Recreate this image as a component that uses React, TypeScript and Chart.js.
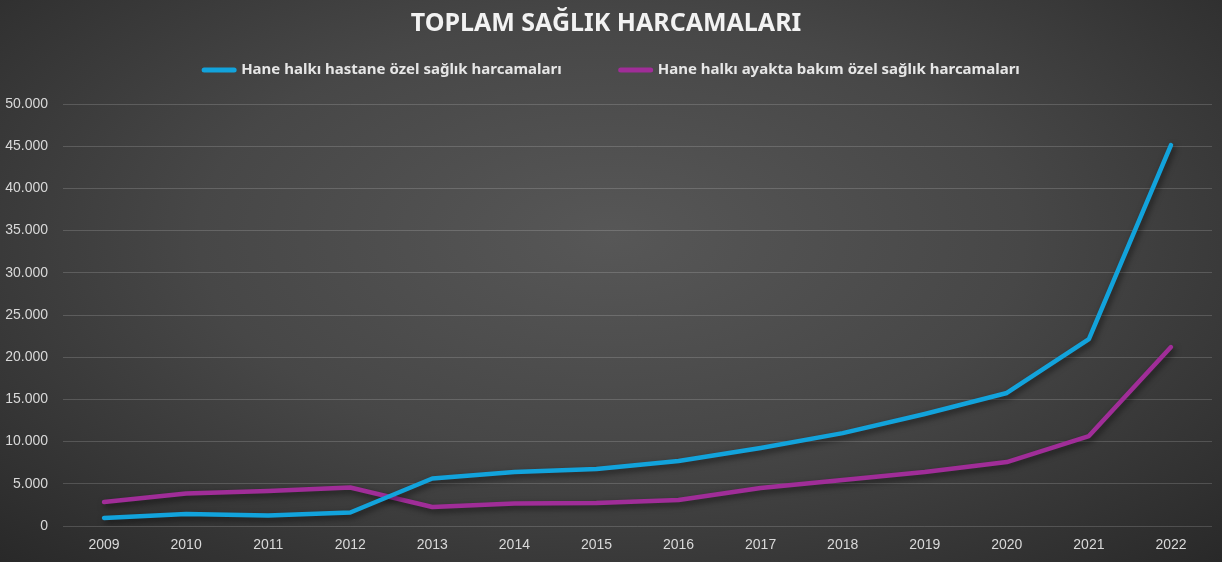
import React, { useEffect, useRef } from "react";
import { Chart, registerables } from "chart.js";

Chart.register(...registerables);

const years = ["2009","2010","2011","2012","2013","2014","2015","2016","2017","2018","2019","2020","2021","2022"];
const hastane = [950, 1420, 1250, 1600, 5630, 6400, 6750, 7700, 9240, 11000, 13270, 15760, 22150, 45140];
const ayakta = [2840, 3850, 4150, 4560, 2250, 2670, 2720, 3080, 4500, 5450, 6400, 7580, 10660, 21200];
const seriesNames = ["Hane halkı hastane özel sağlık harcamaları", "Hane halkı ayakta bakım özel sağlık harcamaları"];
const seriesColors = ["#12a3dc", "#a02d98"];
const titleText = "TOPLAM SAĞLIK HARCAMALARI";

function fmt(v: number): string {
  const s = Math.round(v).toString();
  return s.replace(/\B(?=(\d{3})+(?!\d))/g, ".");
}

const shadowPlugin = {
  id: "lineShadow",
  beforeDatasetsDraw(chart: any) {
    const ctx = chart.ctx;
    ctx.save();
    ctx.shadowColor = "rgba(0,0,0,0.55)";
    ctx.shadowBlur = 6;
    ctx.shadowOffsetX = 2;
    ctx.shadowOffsetY = 3;
  },
  afterDatasetsDraw(chart: any) {
    chart.ctx.restore();
  },
};

const customLegend = {
  id: "customLegend",
  afterDraw(chart: any) {
    const ctx = chart.ctx;
    ctx.save();
    ctx.font = "bold 15px 'Noto Sans', sans-serif";
    const lineLen = 34;
    const textGap = 5;
    const itemGap = 57;
    const items = chart.data.datasets.map((d: any) => ({
      text: d.label,
      color: d.borderColor,
      w: lineLen + textGap + ctx.measureText(d.label).width,
    }));
    const total = items.reduce((a: number, b: any) => a + b.w, 0) + itemGap * (items.length - 1);
    let x = chart.width / 2 - total / 2;
    const y = 70;
    items.forEach((it: any) => {
      ctx.strokeStyle = it.color;
      ctx.lineWidth = 5;
      ctx.lineCap = "round";
      ctx.beginPath();
      ctx.moveTo(x + 2, y);
      ctx.lineTo(x + lineLen - 2, y);
      ctx.stroke();
      ctx.fillStyle = "#e6e6e6";
      ctx.textBaseline = "middle";
      ctx.textAlign = "left";
      ctx.fillText(it.text, x + lineLen + textGap, y);
      x += it.w + itemGap;
    });
    ctx.restore();
  },
};

export default function App() {
  const ref = useRef<HTMLCanvasElement | null>(null);
  useEffect(() => {
    document.body.style.margin = "0";
    const c = new Chart(ref.current!, {
      type: "line",
      data: {
        labels: years,
        datasets: [
          {
            label: seriesNames[0],
            data: hastane,
            borderColor: seriesColors[0],
            backgroundColor: seriesColors[0],
            borderWidth: 4.5,
            pointRadius: 0,
            borderCapStyle: "round",
            borderJoinStyle: "round",
          },
          {
            label: seriesNames[1],
            data: ayakta,
            borderColor: seriesColors[1],
            backgroundColor: seriesColors[1],
            borderWidth: 4.5,
            pointRadius: 0,
            borderCapStyle: "round",
            borderJoinStyle: "round",
          },
        ],
      },
      options: {
        animation: false,
        responsive: false,
        layout: { padding: { left: 0, right: 10, top: 0, bottom: 0 } },
        plugins: {
          title: {
            display: true,
            text: titleText,
            color: "#f2f2f2",
            font: { family: "'Noto Sans', sans-serif", size: 25, weight: "bold" },
            padding: { top: 9, bottom: 65 },
          },
          legend: { display: false },
          tooltip: { enabled: false },
        },
        scales: {
          x: {
            offset: true,
            grid: { display: false, drawTicks: false },
            border: { display: false },
            ticks: { color: "#d9d9d9", font: { family: "'Liberation Sans', Arial, sans-serif", size: 14 }, padding: 11 },
            afterFit: (s: any) => { s.height = 36; },
          },
          y: {
            min: 0,
            max: 50000,
            ticks: {
              stepSize: 5000,
              color: "#d9d9d9",
              font: { family: "'Liberation Sans', Arial, sans-serif", size: 14 },
              padding: 15,
              callback: (v: any) => fmt(Number(v)),
            },
            grid: { color: "rgba(255,255,255,0.16)", lineWidth: 1, drawTicks: false },
            border: { display: false },
            afterFit: (s: any) => { s.width = 63; },
          },
        },
      },
      plugins: [shadowPlugin, customLegend],
    });
    return () => c.destroy();
  }, []);
  return (
    <div
      style={{
        width: 1222,
        height: 562,
        background: "radial-gradient(ellipse 75% 85% at 50% 42%, #575757 0%, #474747 45%, #262626 100%)",
      }}
    >
      <canvas ref={ref} width={1222} height={562} style={{ display: "block" }} />
    </div>
  );
}
